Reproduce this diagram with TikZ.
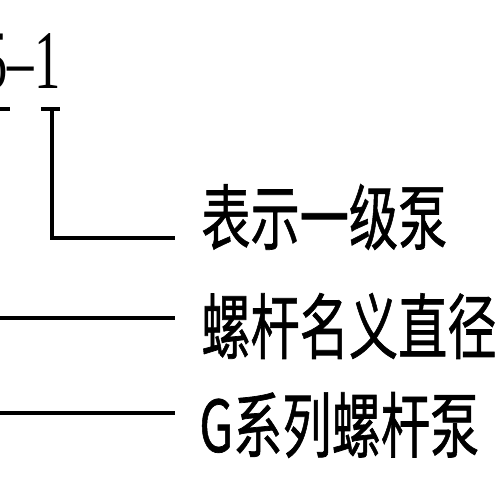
\documentclass[tikz,border=0pt]{standalone}
\usepackage{fontspec}
\newfontfamily\cjk[FakeBold=1]{Noto Sans CJK SC}
\newfontfamily\codefont{Liberation Serif}
\usetikzlibrary{positioning}

\begin{document}
\begin{tikzpicture}[
                meaning/.style={font=\cjk\fontsize{28}{30}\selectfont,inner sep=0pt,anchor=west,yscale=1.45},
                code/.style={font=\codefont\fontsize{30}{32}\selectfont,inner sep=0pt,anchor=east,yscale=1.58},
                lead/.style={line width=2pt}
            ]
                \useasboundingbox (0,0) rectangle (10,-10);
                \clip (0,0) rectangle (10,-10);
                
                % Model code
                \node[code] (model) at (1.22,-1.22) {5–1};
                
                % Code marks
                \coordinate (markA) at (0,-2.18);
                \coordinate (markB) at (0.2,-2.18);
                \coordinate (markC) at (0.82,-2.18);
                \coordinate (markD) at (1.2,-2.18);
                \coordinate (stage) at (1.04,-2.18);
                \draw[lead] (markA) -- (markB);
                \draw[lead] (markC) -- (markD);
                
                % Meanings
                \node[meaning] (stagetext) at (4.02,-4.34) {表示一级泵};
                \node[meaning] (diatext) at (4.02,-6.52) {螺杆名义直径};
                \node[meaning] (seriestext) at (3.98,-8.5) {G系列螺杆泵};
                
                % Leaders
                \coordinate (stagebend) at (1.04,-4.76);
                \coordinate (stageend) at (3.5,-4.76);
                \coordinate (diastart) at (0,-6.36);
                \coordinate (diaend) at (3.5,-6.36);
                \coordinate (seriesstart) at (0,-8.26);
                \coordinate (seriesend) at (3.5,-8.26);
                \draw[lead] (stage) -- (stagebend) -- (stageend);
                \draw[lead] (diastart) -- (diaend);
                \draw[lead] (seriesstart) -- (seriesend);
            \end{tikzpicture}
\end{document}
